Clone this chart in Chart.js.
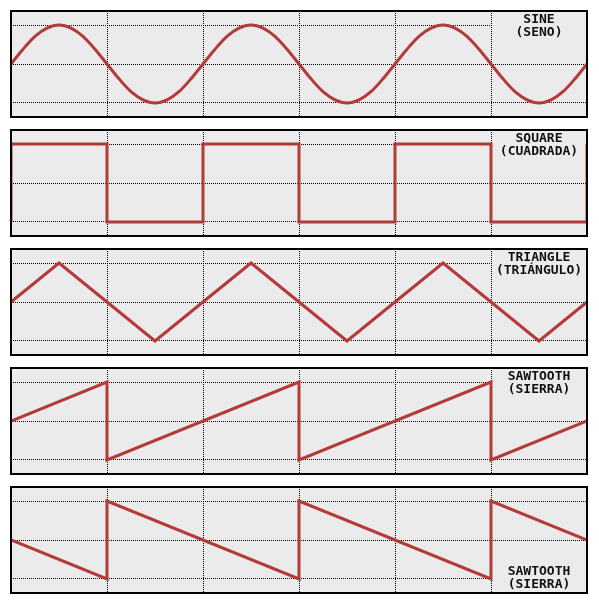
<!DOCTYPE html>
<html>
<head>
<meta charset="utf-8">
<script src="https://cdn.jsdelivr.net/npm/chart.js@4.4.0/dist/chart.umd.min.js"></script>
<style>
    html, body { margin: 0; padding: 0; background: #ffffff; }
    body { width: 599px; height: 605px; position: relative; overflow: hidden; }
    .panel { position: absolute; left: 10px; width: 578px; height: 108px; }
</style>
</head>
<body>
<div class="panel" style="top:10px"><canvas id="sine-chart"></canvas></div>
<div class="panel" style="top:129px"><canvas id="square-chart"></canvas></div>
<div class="panel" style="top:248px"><canvas id="triangle-chart"></canvas></div>
<div class="panel" style="top:367px"><canvas id="sawtooth-chart"></canvas></div>
<div class="panel" style="top:486px"><canvas id="sawtooth-down-chart"></canvas></div>
<script>
// 波形数据 (x: 网格单位, 0..6; y: -1..1)
const SINE_X = [
    0, 0.125, 0.25, 0.375, 0.5, 0.625, 0.75, 0.875,
    1, 1.125, 1.25, 1.375, 1.5, 1.625, 1.75, 1.875,
    2, 2.125, 2.25, 2.375, 2.5, 2.625, 2.75, 2.875,
    3, 3.125, 3.25, 3.375, 3.5, 3.625, 3.75, 3.875,
    4, 4.125, 4.25, 4.375, 4.5, 4.625, 4.75, 4.875,
    5, 5.125, 5.25, 5.375, 5.5, 5.625, 5.75, 5.875,
    6
];
const SINE_Y = [
    0, 0.38, 0.71, 0.92, 1, 0.92, 0.71, 0.38,
    0, -0.38, -0.71, -0.92, -1, -0.92, -0.71, -0.38,
    0, 0.38, 0.71, 0.92, 1, 0.92, 0.71, 0.38,
    0, -0.38, -0.71, -0.92, -1, -0.92, -0.71, -0.38,
    0, 0.38, 0.71, 0.92, 1, 0.92, 0.71, 0.38,
    0, -0.38, -0.71, -0.92, -1, -0.92, -0.71, -0.38,
    0
];

const SQUARE_X = [0, 0, 1, 1, 2, 2, 3, 3, 4, 4, 5, 5, 6, 6];
const SQUARE_Y = [-1, 1, 1, -1, -1, 1, 1, -1, -1, 1, 1, -1, -1, 1];

const TRIANGLE_X = [0, 0.5, 1.5, 2.5, 3.5, 4.5, 5.5, 6];
const TRIANGLE_Y = [0, 1, -1, 1, -1, 1, -1, 0];

const SAW_UP_X = [0, 1, 1, 3, 3, 5, 5, 6];
const SAW_UP_Y = [0, 1, -1, 1, -1, 1, -1, 0];

const SAW_DOWN_X = [0, 1, 1, 3, 3, 5, 5, 6];
const SAW_DOWN_Y = [0, -1, 1, -1, 1, -1, 1, 0];

// 刻度
const X_TICKS = [0, 1, 2, 3, 4, 5, 6];
const Y_TICKS = [-1, 0, 1];

// 标签文字
const SINE_LABEL = ['SINE', '(SENO)'];
const SQUARE_LABEL = ['SQUARE', '(CUADRADA)'];
const TRIANGLE_LABEL = ['TRIANGLE', '(TRIÁNGULO)'];
const SAW_UP_LABEL = ['SAWTOOTH', '(SIERRA)'];
const SAW_DOWN_LABEL = ['SAWTOOTH', '(SIERRA)'];

const LINE_COLOR = '#b43a3a';
const PANEL_BG = '#ebebeb';

/**
 * 背景、边框和标签插件
 */
const panelPlugin = {
    id: 'panelDecor',
    beforeDraw: function(chart) {
        const area = chart.chartArea;
        const ctx = chart.ctx;
        ctx.save();
        ctx.fillStyle = PANEL_BG;
        ctx.fillRect(area.left, area.top, area.right - area.left, area.bottom - area.top);
        ctx.restore();
    },
    beforeDatasetsDraw: function(chart, args, opts) {
        // 标签背景盖住网格
        const area = chart.chartArea;
        const ctx = chart.ctx;
        const x0 = chart.scales.x.getPixelForValue(5) + 1;
        ctx.save();
        ctx.fillStyle = PANEL_BG;
        if (opts.position === 'bottom') {
            ctx.fillRect(x0, area.bottom - 35, area.right - x0, 35);
        } else {
            ctx.fillRect(x0, area.top, area.right - x0, 29);
        }
        ctx.restore();
    },
    afterDraw: function(chart, args, opts) {
        const area = chart.chartArea;
        const ctx = chart.ctx;
        ctx.save();
        // 边框
        ctx.strokeStyle = '#000000';
        ctx.lineWidth = 2;
        ctx.strokeRect(area.left, area.top, area.right - area.left, area.bottom - area.top);
        // 标签
        ctx.fillStyle = '#111111';
        ctx.font = 'bold 13px "DejaVu Sans Mono", monospace';
        ctx.textAlign = 'center';
        ctx.textBaseline = 'middle';
        const cx = 529;
        const y1 = opts.position === 'bottom' ? 85.5 : 9.5;
        opts.lines.forEach(function(line, i) {
            ctx.fillText(line, cx, y1 + i * 13);
        });
        ctx.restore();
    }
};

function toPoints(xs, ys) {
    return xs.map(function(x, i) { return { x: x, y: ys[i] }; });
}

/**
 * 创建波形图表
 */
function createWaveChart(id, xs, ys, label, position, smooth) {
    const canvas = document.getElementById(id);
    if (!canvas) return;

    new Chart(canvas, {
        type: 'line',
        data: {
            datasets: [{
                data: toPoints(xs, ys),
                borderColor: LINE_COLOR,
                borderWidth: 3,
                pointRadius: 0,
                borderJoinStyle: 'miter',
                cubicInterpolationMode: smooth ? 'monotone' : 'default',
                tension: 0
            }]
        },
        options: {
            responsive: true,
            maintainAspectRatio: false,
            animation: false,
            layout: {
                padding: { left: 1, right: 1, top: 1, bottom: 1 }
            },
            plugins: {
                legend: { display: false },
                tooltip: { enabled: false },
                panelDecor: { lines: label, position: position }
            },
            scales: {
                x: {
                    type: 'linear',
                    min: 0,
                    max: 6,
                    afterBuildTicks: function(scale) {
                        scale.ticks = X_TICKS.map(function(v) { return { value: v }; });
                    },
                    ticks: { display: false },
                    grid: { color: '#000000', lineWidth: 1, drawTicks: false },
                    border: { display: false, dash: [1, 1] }
                },
                y: {
                    min: -1.359,
                    max: 1.359,
                    afterBuildTicks: function(scale) {
                        scale.ticks = Y_TICKS.map(function(v) { return { value: v }; });
                    },
                    ticks: { display: false },
                    grid: { color: '#000000', lineWidth: 1, drawTicks: false },
                    border: { display: false, dash: [1, 1] }
                }
            }
        },
        plugins: [panelPlugin]
    });
}

createWaveChart('sine-chart', SINE_X, SINE_Y, SINE_LABEL, 'top', true);
createWaveChart('square-chart', SQUARE_X, SQUARE_Y, SQUARE_LABEL, 'top', false);
createWaveChart('triangle-chart', TRIANGLE_X, TRIANGLE_Y, TRIANGLE_LABEL, 'top', false);
createWaveChart('sawtooth-chart', SAW_UP_X, SAW_UP_Y, SAW_UP_LABEL, 'top', false);
createWaveChart('sawtooth-down-chart', SAW_DOWN_X, SAW_DOWN_Y, SAW_DOWN_LABEL, 'bottom', false);
</script>
</body>
</html>
